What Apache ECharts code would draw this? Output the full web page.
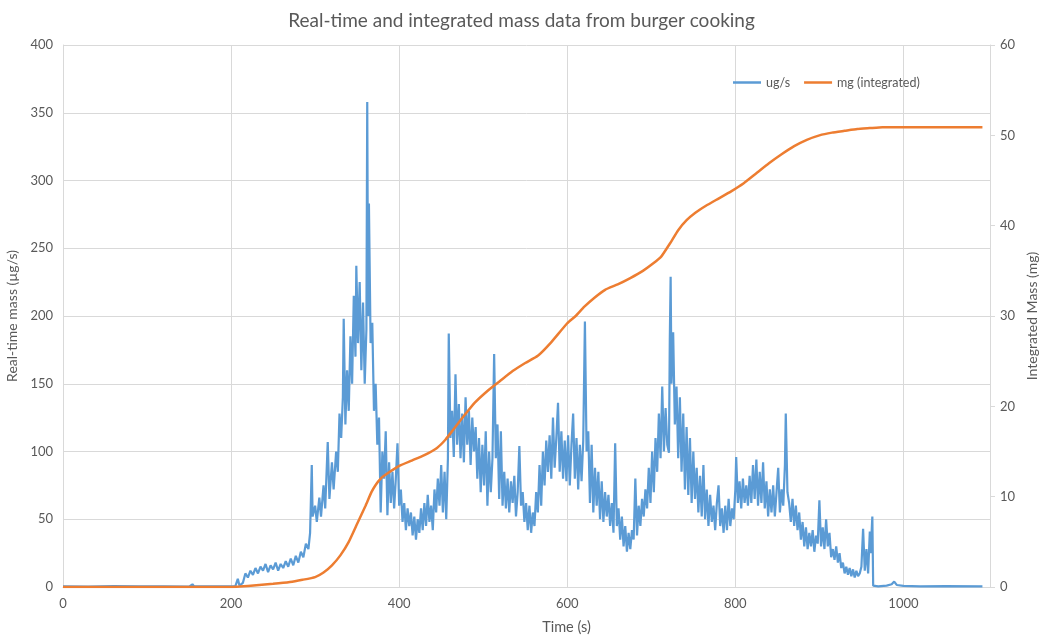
<!DOCTYPE html>
<html>
<head>
<meta charset="utf-8">
<script src="https://cdn.jsdelivr.net/npm/echarts@6/dist/echarts.min.js"></script>
<style>
  html, body { margin: 0; padding: 0; background: #fff; }
  #chart { width: 1043px; height: 642px; }
</style>
</head>
<body>
<div id="chart"></div>
<script>
// Real-time emission rate, [time (s), µg/s]
const realTimeUgPerSec = [
  [0,0.5],[30,0.3],[60,0.6],[90,0.4],[120,0.5],[150,0.3],[154,2],[156,0.4],[180,0.5],[205,0.5],
  [208,6],[210,1],[214,3],[217,10],[220,7],[223,12],[226,9],[229,14],[232,10],[235,15],
  [238,12],[241,17],[244,11],[247,16],[250,13],[253,18],[256,12],[259,17],[262,14],[265,19],
  [268,15],[271,21],[274,16],[277,23],[280,18],[283,26],[286,22],[289,32],[292,28],[294,40],
  [296,90],[297,52],[300,60],[302,48],[305,66],[307,52],[310,75],[312,58],[315,107],[317,65],
  [320,92],[322,72],[325,100],[327,85],[329,128],[331,110],[333,140],[334,198],[336,120],[338,160],
  [340,130],[342,185],[344,150],[346,215],[348,170],[349,237],[351,180],[353,225],[355,160],[357,210],
  [359,150],[361,190],[362,358],[363,200],[364,283],[366,180],[368,195],[370,130],[372,150],[374,105],
  [376,125],[378,55],[380,100],[382,80],[384,115],[386,53],[388,92],[390,62],[392,85],[394,58],
  [396,80],[398,106],[400,60],[402,72],[404,48],[406,62],[408,42],[410,58],[412,45],[414,55],
  [416,38],[418,52],[420,35],[422,50],[424,40],[426,58],[428,42],[430,62],[432,45],[434,68],
  [436,48],[438,60],[440,42],[442,72],[444,55],[446,80],[448,60],[450,90],[452,55],[454,85],
  [456,50],[458,95],[459,187],[461,110],[463,130],[465,96],[467,157],[469,105],[471,135],[473,95],
  [475,128],[477,92],[479,140],[481,105],[483,130],[485,90],[487,125],[489,100],[491,118],[493,80],
  [495,110],[497,70],[499,105],[501,75],[503,115],[505,60],[507,100],[509,70],[511,95],[513,172],
  [515,95],[517,120],[519,65],[521,115],[523,60],[525,85],[527,58],[529,80],[531,55],[533,78],
  [535,62],[537,82],[539,52],[541,70],[543,104],[545,60],[547,70],[549,48],[551,62],[553,42],
  [555,60],[557,40],[559,55],[561,45],[563,70],[565,55],[567,90],[569,60],[571,100],[573,75],
  [575,108],[577,85],[579,112],[581,80],[583,125],[585,88],[587,110],[589,136],[591,85],[593,115],
  [595,80],[597,108],[599,78],[601,112],[603,75],[605,105],[607,128],[609,80],[611,110],[613,72],
  [615,105],[617,78],[619,108],[621,196],[623,100],[625,115],[627,62],[629,105],[631,55],[633,88],
  [635,60],[637,85],[639,50],[641,78],[643,48],[645,70],[647,52],[649,68],[651,45],[653,62],
  [655,40],[657,106],[659,45],[661,58],[663,35],[665,52],[667,30],[669,45],[671,26],[673,40],
  [675,28],[677,42],[679,35],[681,80],[683,38],[685,60],[687,45],[689,65],[691,52],[693,72],
  [695,58],[697,88],[699,62],[701,100],[703,70],[705,110],[707,85],[709,128],[711,95],[713,148],
  [715,100],[717,132],[719,105],[721,99],[722,182],[723,229],[724,150],[726,188],[728,120],[730,148],
  [732,95],[734,140],[736,85],[738,128],[740,72],[742,118],[744,68],[746,110],[748,62],[750,100],
  [752,65],[754,88],[756,55],[758,82],[760,52],[762,90],[764,50],[766,72],[768,45],[770,68],
  [772,48],[774,60],[776,42],[778,62],[780,75],[782,45],[784,58],[786,40],[788,60],[790,42],
  [792,65],[794,45],[796,58],[798,50],[800,72],[801,96],[803,62],[805,78],[807,58],[809,80],
  [811,62],[813,75],[815,60],[817,82],[819,62],[821,90],[823,65],[825,94],[827,60],[829,85],
  [831,62],[833,92],[835,58],[837,78],[839,52],[841,72],[843,55],[845,75],[847,52],[849,70],
  [851,88],[853,55],[855,72],[857,60],[859,90],[860,128],[862,70],[864,62],[866,48],[868,65],
  [870,45],[872,60],[874,42],[876,55],[878,35],[880,48],[882,30],[884,44],[886,28],[888,40],
  [890,30],[892,42],[894,26],[896,38],[898,32],[900,64],[902,30],[904,44],[906,28],[908,50],
  [910,30],[912,40],[914,22],[916,28],[918,20],[920,30],[922,18],[924,25],[926,14],[928,18],
  [930,10],[932,15],[934,9],[936,14],[938,8],[940,13],[942,7],[944,12],[946,8],[948,10],
  [950,15],[952,43],[954,12],[956,28],[958,10],[960,41],[961,25],[963,52],[964,1],[970,0.5],
  [980,1],[986,2],[989,4],[992,1.5],[1000,0.8],[1020,0.5],[1050,0.6],[1094,0.5]
];

// Cumulative mass, [time (s), mg]
const integratedMg = [
  [0,0],[200,0],[210,0.05],[230,0.2],[250,0.35],[270,0.55],[285,0.8],[300,1.1],[310,1.6],[320,2.4],
  [330,3.5],[340,5.0],[350,7.0],[360,9.0],[367,10.5],[372,11.3],[378,12.0],[385,12.5],[400,13.4],[415,14.0],
  [430,14.6],[445,15.4],[455,16.3],[465,17.5],[475,18.7],[490,20.4],[505,21.7],[520,22.8],[535,23.9],[550,24.8],
  [565,25.6],[580,27.0],[600,29.2],[610,30.0],[620,31.0],[632,32.0],[645,32.9],[660,33.5],[675,34.2],[690,35.0],
  [702,35.8],[712,36.6],[722,38.0],[732,39.5],[742,40.6],[752,41.4],[765,42.2],[780,43.0],[795,43.8],[810,44.7],
  [825,45.8],[840,46.9],[855,47.9],[870,48.8],[885,49.5],[900,50.0],[915,50.3],[930,50.5],[945,50.7],[960,50.8],
  [975,50.9],[1094,50.9]
];

const titleText = 'Real-time and integrated mass data from burger cooking';
const seriesNames = ['ug/s', 'mg (integrated)'];
const axisNames = { x: 'Time (s)', left: 'Real-time mass (µg/s)', right: 'Integrated Mass (mg)' };

const textColor = '#595959';
const gridColor = '#D9D9D9';
const fontFamily = 'Lato, "Open Sans", sans-serif';

const chart = echarts.init(document.getElementById('chart'), null, { renderer: 'canvas' });
chart.setOption({
  animation: false,
  backgroundColor: '#fff',
  textStyle: { fontFamily: fontFamily, color: textColor },
  title: {
    text: titleText,
    left: 'center',
    top: 6,
    textStyle: { fontFamily: fontFamily, fontSize: 19, fontWeight: 'normal', color: textColor }
  },
  legend: {
    data: seriesNames,
    left: 733,
    top: 76,
    padding: 0,
    icon: 'rect',
    itemWidth: 28,
    itemHeight: 2.5,
    itemGap: 14,
    textStyle: { fontFamily: fontFamily, fontSize: 12.5, color: textColor, padding: [2, 0, 0, 0] }
  },
  grid: { left: 63, right: 53, top: 45, bottom: 55, containLabel: false, outerBoundsMode: 'none' },
  xAxis: {
    type: 'value',
    min: 0,
    max: 1103,
    interval: 200,
    name: axisNames.x,
    nameLocation: 'middle',
    nameGap: 33,
    nameTextStyle: { fontFamily: fontFamily, fontSize: 14.5, color: textColor, padding: [0, 0, 0, 80] },
    axisLine: { show: true, lineStyle: { color: gridColor } },
    axisTick: { show: false },
    axisLabel: { color: textColor, fontSize: 13, margin: 10, showMaxLabel: false, formatter: v => String(v) },
    splitLine: { show: true, lineStyle: { color: gridColor } }
  },
  yAxis: [
    {
      type: 'value',
      min: 0,
      max: 400,
      interval: 50,
      name: axisNames.left,
      nameLocation: 'middle',
      nameGap: 37,
      nameTextStyle: { fontFamily: fontFamily, fontSize: 14, color: textColor },
      axisLine: { show: true, lineStyle: { color: gridColor } },
      axisTick: { show: false },
      axisLabel: { color: textColor, fontSize: 13, margin: 10 },
      splitLine: { show: true, lineStyle: { color: gridColor } }
    },
    {
      type: 'value',
      min: 0,
      max: 60,
      interval: 10,
      position: 'right',
      name: axisNames.right,
      nameLocation: 'middle',
      nameGap: 33,
      nameRotate: 90,
      nameTextStyle: { fontFamily: fontFamily, fontSize: 14, color: textColor },
      axisLine: { show: true, lineStyle: { color: gridColor } },
      axisTick: { show: true, length: 5, lineStyle: { color: gridColor } },
      axisLabel: { color: textColor, fontSize: 13, margin: 10 },
      splitLine: { show: false }
    }
  ],
  series: [
    {
      name: seriesNames[0],
      type: 'line',
      yAxisIndex: 0,
      data: realTimeUgPerSec,
      symbol: 'none',
      lineStyle: { color: '#5B9BD5', width: 2.2 },
      itemStyle: { color: '#5B9BD5' },
      z: 2
    },
    {
      name: seriesNames[1],
      type: 'line',
      yAxisIndex: 1,
      data: integratedMg,
      symbol: 'none',
      smooth: 0.15,
      lineStyle: { color: '#ED7D31', width: 2.5 },
      itemStyle: { color: '#ED7D31' },
      z: 3
    }
  ]
});
</script>
</body>
</html>
